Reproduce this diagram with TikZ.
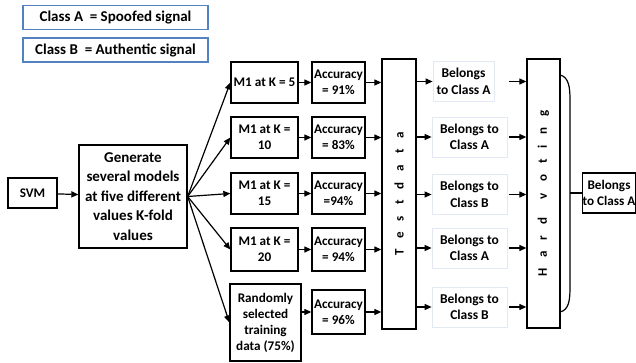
\documentclass[tikz,border=0pt]{standalone}
\usepackage{fontspec}
\setmainfont{Carlito}
\usetikzlibrary{arrows.meta}
\definecolor{clsblue}{RGB}{84,130,192}
\definecolor{shade}{RGB}{226,233,244}
\newcommand{\lsp}{\hspace{11pt}}
\newcommand{\wsp}{\hspace{18.5pt}}
\tikzset{
  box/.style={draw=black, line width=1.3pt, fill=white, align=center, inner sep=0pt,
    font=\bfseries\fontsize{13.2}{16}\selectfont},
  bigfont/.style={font=\bfseries\fontsize{15}{19.5}\selectfont},
  clsbox/.style={draw=clsblue, line width=1.8pt, fill=white, inner sep=0pt,
    minimum width=185pt, minimum height=24pt, font=\bfseries\fontsize{15}{18}\selectfont},
  belbox/.style={draw=shade, line width=0.8pt, fill=white, align=center, inner sep=0pt,
    minimum height=40pt, font=\bfseries\fontsize{13.5}{16.5}\selectfont},
  vlabel/.style={rotate=90, inner sep=0pt, font=\bfseries\fontsize{13}{15}\selectfont},
  arr/.style={line width=1.2pt, -{Triangle[length=7pt,width=6pt]}},
  plain/.style={line width=1.2pt},
}
\begin{document}
\begin{tikzpicture}[x=1pt,y=-1pt]
\useasboundingbox (0,0) rectangle (636,363);
% legend
\node[clsbox] (ca) at (115.5,17.5) {Class A\ \ = Spoofed signal};
\node[clsbox] (cb) at (115.5,50) {Class B\ \ = Authentic signal};
% left
\node[box, minimum width=49pt, minimum height=30pt] (svm) at (32.5,193) {SVM};
\node[box, bigfont, minimum width=108pt, minimum height=103pt] (gen) at (133,196.5)
  {Generate\\several models\\at five different\\values K-fold\\values};
% models
\node[box, minimum width=67pt, minimum height=41pt] (m1) at (264.5,82.5) {M1 at K = 5};
\node[box, minimum width=67pt, minimum height=41pt] (m2) at (264.5,137.5) {M1 at K =\\10};
\node[box, minimum width=67pt, minimum height=41pt] (m3) at (264.5,193.5) {M1 at K =\\15};
\node[box, minimum width=67pt, minimum height=43pt] (m4) at (264.5,249.5) {M1 at K =\\20};
\node[box, minimum width=71pt, minimum height=77pt] (m5) at (265.5,322.5)
  {Randomly\\selected\\training\\data (75\%)};
% accuracy
\node[box, minimum width=53pt, minimum height=41pt] (a1) at (338.5,82.5) {Accuracy\\= 91\%};
\node[box, minimum width=53pt, minimum height=41pt] (a2) at (338.5,137.5) {Accuracy\\= 83\%};
\node[box, minimum width=53pt, minimum height=41pt] (a3) at (338.5,193.5) {Accuracy\\=94\%};
\node[box, minimum width=53pt, minimum height=43pt] (a4) at (338.5,249.5) {Accuracy\\= 94\%};
\node[box, minimum width=53pt, minimum height=44pt] (a5) at (338.5,312) {Accuracy\\= 96\%};
% test data
\node[box, minimum width=34pt, minimum height=270pt] (test) at (399,194) {};
\node[vlabel] (testlbl) at (test) {T\lsp e\lsp s\lsp t\lsp d\lsp a\lsp t\lsp a};
% belongs
\node[belbox, minimum width=61pt] (b1) at (463.5,81.5) {Belongs\\to Class A};
\node[belbox, minimum width=75pt] (b2) at (469.5,137) {Belongs to\\Class A};
\node[belbox, minimum width=75pt] (b3) at (469.5,194.5) {Belongs to\\Class B};
\node[belbox, minimum width=75pt] (b4) at (469.5,248) {Belongs to\\Class A};
\node[belbox, minimum width=75pt] (b5) at (469.5,307) {Belongs to\\Class B};
% hard voting
\node[box, minimum width=33pt, minimum height=269pt] (hv) at (543.5,193.5) {};
\node[vlabel] (hvlbl) at (hv) {H\lsp a\lsp r\lsp d\wsp v\lsp o\lsp t\lsp i\lsp n\lsp g};
% final
\node[box, minimum width=52pt, minimum height=40pt] (fin) at (609,193) {Belongs\\to Class A};
% connectors
\draw[arr] (svm) -- (gen);
\foreach \m in {m1,m2,m3,m4,m5} \draw[arr] (gen.east) -- (\m.west);
\draw[arr] (m1) -- (a1);
\draw[arr] (m2) -- (a2);
\draw[arr] (m3) -- (a3);
\draw[arr] (m4) -- (a4);
\draw[arr] (m5.east |- a5) -- (a5.west);
\foreach \a in {a1,a2,a3,a4,a5} \draw[arr] (\a.east) -- (\a.east -| test.west);
\foreach \b in {b1,b2,b3,b4,b5} \draw[arr] (test.east |- \b) -- (\b.west);
\foreach \b in {b1,b2,b3,b4,b5} \draw[arr] ([xshift=2pt]b2.east |- \b) -- (\b -| hv.west);
% bracket
\coordinate (bt) at (560,75);
\coordinate (bb) at (560,312);
\coordinate (bm) at (570,193);
\draw[plain] (bt) .. controls (569,77) and (570,88) .. (570,100) -- (570,287)
  .. controls (570,300) and (569,310) .. (bb);
\draw[plain] (bm) -- (fin.west);
\end{tikzpicture}
\end{document}
